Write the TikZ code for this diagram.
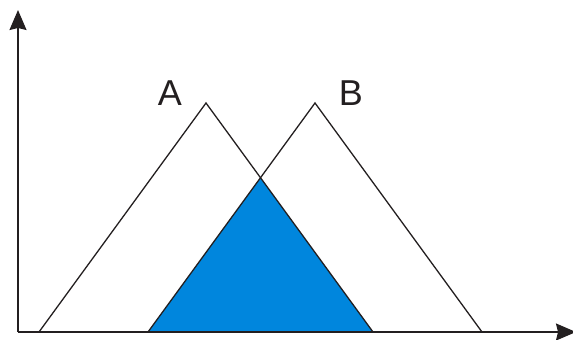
\documentclass[tikz,border=0pt]{standalone}
\usepackage{xcolor}
\usepackage{tikz}
\usepackage{fontspec}
\setmainfont{Liberation Sans}
\usetikzlibrary{
  arrows.meta,
  positioning,
  calc
}
\definecolor{mfBlue}{HTML}{0086DD}
\definecolor{mfInk}{HTML}{231F20}
\tikzset{
  mfaxis/.style={-{Stealth[length=20pt, width=17pt, inset=2pt]}, line width=1.3pt, mfInk},
  mfset/.style={line width=1.3pt, mfInk, line join=miter},
  mfcut/.style={fill=mfBlue, draw=none},
  mflabel/.style={font=\fontsize{36}{36}\selectfont, text=mfInk, inner sep=0pt}
}
\begin{document}
\begin{tikzpicture}[x=1pt, y=-1pt]
  \useasboundingbox (0,0) rectangle (573,340);
  % axes
  \coordinate (o) at (18,332);
  \coordinate (ytop) at (18,10);
  \coordinate (xend) at (576,332);
  % triangle corners
  \coordinate (a1) at (39,332);
  \coordinate (a2) at (206,103);
  \coordinate (a3) at (373,332);
  \coordinate (b1) at (148,332);
  \coordinate (b2) at (315,103);
  \coordinate (b3) at (482,332);
  \coordinate (ab) at (intersection of a2--a3 and b1--b2);
  % intersection of A and B
  \fill[mfcut] (b1) -- (ab) -- (a3) -- cycle;
  \draw[mfset] (a1) -- (a2) -- (a3);
  \draw[mfset] (b1) -- (b2) -- (b3);
  \draw[mfaxis] (o) -- (ytop);
  \draw[mfaxis] (o) -- (xend);
  \node[mflabel] (lblA) at (170,93) {A};
  \node[mflabel] (lblB) at (351,93) {B};
\end{tikzpicture}
\end{document}
